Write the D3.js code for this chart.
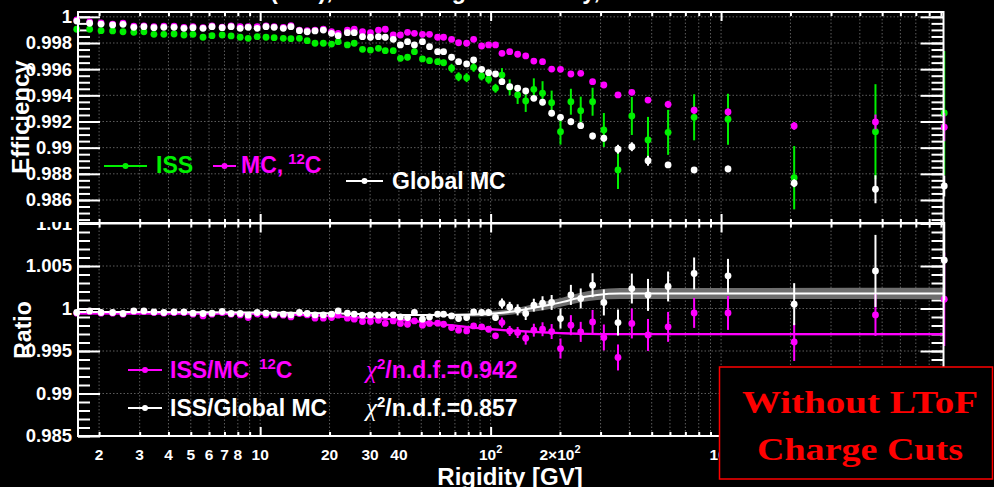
<!DOCTYPE html>
<html>
<head>
<meta charset="utf-8">
<script src="https://cdn.jsdelivr.net/npm/d3@7"></script>
<style>
  html, body { margin: 0; padding: 0; background: #000; }
  svg { display: block; }
</style>
</head>
<body>
<svg id="chart" width="994" height="487"></svg>
<script>
// ---- Rigidity bins [GV] ----
const rigidity = [1.60, 1.82, 2.04, 2.29, 2.54, 2.83, 3.13, 3.46, 3.82, 4.23,
  4.67, 5.11, 5.65, 6.18, 6.84, 7.48, 8.19, 8.87, 9.70, 10.6,
  11.5, 12.6, 13.6, 14.8, 16.0, 17.3, 18.8, 20.4, 21.8, 23.9,
  25.6, 27.8, 30.1, 32.6, 34.9, 37.8, 40.6, 43.6, 46.7, 50.6,
  54.3, 58.9, 62.5, 67.7, 72.6, 78.7, 84.4, 91.4, 98.0, 105,
  112, 121, 131, 142, 154, 168, 184, 201, 223, 246,
  277, 310, 357, 410, 482, 589, 764, 1072, 2076, 4677,
  9300];

// ---- Efficiency: ISS data ----
const effISS = [0.99905, 0.99905, 0.99894, 0.99892, 0.99886, 0.99882, 0.99886, 0.99866, 0.99866, 0.99869,
  0.99861, 0.99866, 0.99844, 0.99856, 0.99861, 0.99854, 0.99844, 0.99836, 0.99848, 0.99844,
  0.99841, 0.99836, 0.99833, 0.99836, 0.99818, 0.99798, 0.99798, 0.99792, 0.99810, 0.99785,
  0.99798, 0.99752, 0.99746, 0.99759, 0.99741, 0.99741, 0.99683, 0.99691, 0.99734, 0.99678,
  0.99665, 0.99657, 0.99649, 0.99607, 0.99542, 0.99535, 0.99614, 0.99548, 0.99523, 0.99454,
  0.99555, 0.99461, 0.99403, 0.99357, 0.99446, 0.99416, 0.99344, 0.99122, 0.99351, 0.99283,
  0.99351, 0.99135, 0.98829, 0.99242, 0.99059, 0.99117, 0.99232, 0.99217, 0.98770, 0.99122,
  0.99265];
const errISS = [0.00008, 0.00008, 0.00008, 0.00008, 0.00008, 0.00008, 0.00008, 0.00008, 0.00008, 0.00008,
  0.00008, 0.00008, 0.00008, 0.00008, 0.00008, 0.00008, 0.00008, 0.00008, 0.00008, 0.00008,
  0.00008, 0.00008, 0.00008, 0.00008, 0.00008, 0.00008, 0.00008, 0.00015, 0.00015, 0.00015,
  0.00015, 0.00015, 0.00015, 0.00015, 0.00015, 0.00015, 0.00023, 0.00023, 0.00023, 0.00023,
  0.00023, 0.00023, 0.00023, 0.00034, 0.00034, 0.00034, 0.00034, 0.00034, 0.00034, 0.00034,
  0.00053, 0.00061, 0.00069, 0.00084, 0.00084, 0.00092, 0.00092, 0.00099, 0.00099, 0.00107,
  0.00107, 0.00130, 0.00145, 0.00145, 0.00176, 0.00172, 0.00176, 0.00195, 0.00242, 0.00363,
  0.00474];

// ---- Efficiency: MC, 12C ----
const effMC12C = [0.99976, 0.99961, 0.99953, 0.99945, 0.99951, 0.99928, 0.99930, 0.99925, 0.99928, 0.99928,
  0.99920, 0.99925, 0.99917, 0.99930, 0.99922, 0.99930, 0.99925, 0.99925, 0.99925, 0.99930,
  0.99925, 0.99920, 0.99932, 0.99899, 0.99894, 0.99899, 0.99905, 0.99886, 0.99874, 0.99899,
  0.99905, 0.99886, 0.99879, 0.99899, 0.99905, 0.99861, 0.99861, 0.99882, 0.99874, 0.99866,
  0.99866, 0.99844, 0.99844, 0.99828, 0.99802, 0.99798, 0.99828, 0.99777, 0.99785, 0.99785,
  0.99721, 0.99734, 0.99714, 0.99701, 0.99662, 0.99657, 0.99601, 0.99599, 0.99563, 0.99568,
  0.99504, 0.99479, 0.99403, 0.99423, 0.99364, 0.99331, 0.99286, 0.99273, 0.99166, 0.99196,
  0.99156];
const errMC12C = [0.00003, 0.00003, 0.00003, 0.00003, 0.00003, 0.00003, 0.00003, 0.00003, 0.00003, 0.00003,
  0.00003, 0.00003, 0.00003, 0.00003, 0.00003, 0.00003, 0.00003, 0.00003, 0.00003, 0.00003,
  0.00003, 0.00003, 0.00003, 0.00003, 0.00003, 0.00003, 0.00003, 0.00003, 0.00003, 0.00003,
  0.00003, 0.00003, 0.00003, 0.00003, 0.00003, 0.00003, 0.00003, 0.00003, 0.00003, 0.00003,
  0.00003, 0.00003, 0.00003, 0.00003, 0.00003, 0.00003, 0.00003, 0.00003, 0.00003, 0.00008,
  0.00008, 0.00008, 0.00008, 0.00008, 0.00008, 0.00008, 0.00008, 0.00012, 0.00012, 0.00012,
  0.00012, 0.00012, 0.00012, 0.00012, 0.00012, 0.00027, 0.00027, 0.00027, 0.00030, 0.00057,
  0.00107];

// ---- Efficiency: Global MC ----
const effGlobalMC = [0.99968, 0.99951, 0.99945, 0.99938, 0.99943, 0.99920, 0.99925, 0.99917, 0.99920, 0.99920,
  0.99912, 0.99917, 0.99912, 0.99925, 0.99917, 0.99925, 0.99912, 0.99920, 0.99912, 0.99925,
  0.99920, 0.99912, 0.99925, 0.99894, 0.99886, 0.99892, 0.99899, 0.99874, 0.99856, 0.99879,
  0.99879, 0.99848, 0.99844, 0.99848, 0.99844, 0.99828, 0.99785, 0.99810, 0.99785, 0.99810,
  0.99772, 0.99734, 0.99734, 0.99691, 0.99657, 0.99640, 0.99670, 0.99599, 0.99573, 0.99563,
  0.99504, 0.99466, 0.99454, 0.99433, 0.99377, 0.99347, 0.99263, 0.99232, 0.99198, 0.99168,
  0.99089, 0.99072, 0.98988, 0.99007, 0.98900, 0.98868, 0.98829, 0.98837, 0.98728, 0.98682,
  0.98707];
const errGlobalMC = [0.00004, 0.00004, 0.00004, 0.00004, 0.00004, 0.00004, 0.00004, 0.00004, 0.00004, 0.00004,
  0.00004, 0.00004, 0.00004, 0.00004, 0.00004, 0.00004, 0.00004, 0.00004, 0.00004, 0.00004,
  0.00004, 0.00004, 0.00004, 0.00004, 0.00004, 0.00004, 0.00004, 0.00004, 0.00004, 0.00004,
  0.00004, 0.00004, 0.00004, 0.00004, 0.00004, 0.00004, 0.00004, 0.00004, 0.00004, 0.00004,
  0.00010, 0.00010, 0.00010, 0.00010, 0.00010, 0.00010, 0.00010, 0.00010, 0.00010, 0.00010,
  0.00010, 0.00010, 0.00010, 0.00010, 0.00010, 0.00010, 0.00010, 0.00025, 0.00025, 0.00025,
  0.00025, 0.00025, 0.00034, 0.00034, 0.00038, 0.00023, 0.00023, 0.00025, 0.00030, 0.00107,
  0.00080];

// ---- Ratio: ISS / MC 12C ----
const ratioMC12C = [0.99945, 0.99965, 0.99945, 0.99945, 0.99933, 0.99965, 0.99965, 0.99953, 0.99945, 0.99953,
  0.99953, 0.99933, 0.99913, 0.99933, 0.99953, 0.99933, 0.99925, 0.99894, 0.99933, 0.99925,
  0.99921, 0.99921, 0.99901, 0.99941, 0.99925, 0.99886, 0.99886, 0.99894, 0.99921, 0.99886,
  0.99874, 0.99847, 0.99847, 0.99862, 0.99824, 0.99854, 0.99824, 0.99815, 0.99854, 0.99804,
  0.99824, 0.99827, 0.99815, 0.99776, 0.99745, 0.99736, 0.99795, 0.99784, 0.99756, 0.99678,
  0.99835, 0.99736, 0.99718, 0.99651, 0.99745, 0.99756, 0.99729, 0.99529, 0.99804, 0.99725,
  0.99842, 0.99659, 0.99424, 0.99824, 0.99689, 0.99784, 0.99948, 0.99948, 0.99607, 0.99925,
  1.00109];
const errRatioMC12C = [0.00006, 0.00006, 0.00006, 0.00006, 0.00006, 0.00006, 0.00006, 0.00006, 0.00006, 0.00006,
  0.00006, 0.00006, 0.00006, 0.00006, 0.00006, 0.00006, 0.00006, 0.00006, 0.00006, 0.00015,
  0.00015, 0.00015, 0.00015, 0.00015, 0.00015, 0.00015, 0.00015, 0.00015, 0.00015, 0.00015,
  0.00015, 0.00015, 0.00015, 0.00015, 0.00015, 0.00015, 0.00035, 0.00035, 0.00035, 0.00035,
  0.00035, 0.00035, 0.00035, 0.00035, 0.00035, 0.00035, 0.00035, 0.00035, 0.00035, 0.00035,
  0.00059, 0.00059, 0.00065, 0.00076, 0.00076, 0.00082, 0.00088, 0.00118, 0.00118, 0.00118,
  0.00141, 0.00153, 0.00153, 0.00176, 0.00188, 0.00176, 0.00176, 0.00200, 0.00224, 0.00247,
  0.00550];

// ---- Ratio: ISS / Global MC ----
const ratioGlobalMC = [0.99953, 0.99972, 0.99953, 0.99953, 0.99941, 0.99972, 0.99972, 0.99960, 0.99953, 0.99960,
  0.99960, 0.99945, 0.99941, 0.99945, 0.99965, 0.99941, 0.99941, 0.99921, 0.99953, 0.99945,
  0.99933, 0.99933, 0.99925, 0.99953, 0.99941, 0.99925, 0.99925, 0.99933, 0.99972, 0.99945,
  0.99933, 0.99921, 0.99925, 0.99921, 0.99925, 0.99925, 0.99901, 0.99894, 0.99953, 0.99874,
  0.99901, 0.99933, 0.99933, 0.99913, 0.99882, 0.99894, 0.99960, 0.99953, 0.99953, 0.99894,
  1.00059, 1.00019, 0.99984, 0.99941, 1.00039, 1.00062, 1.00071, 0.99882, 1.00160, 1.00118,
  1.00274, 1.00071, 0.99835, 1.00235, 1.00160, 1.00259, 1.00412, 1.00384, 1.00051, 1.00442,
  1.00568];
const errRatioGlobalMC = [0.00006, 0.00006, 0.00006, 0.00006, 0.00006, 0.00006, 0.00006, 0.00006, 0.00006, 0.00006,
  0.00006, 0.00006, 0.00006, 0.00006, 0.00006, 0.00006, 0.00006, 0.00006, 0.00006, 0.00015,
  0.00015, 0.00015, 0.00015, 0.00015, 0.00015, 0.00015, 0.00015, 0.00015, 0.00015, 0.00015,
  0.00015, 0.00015, 0.00015, 0.00015, 0.00015, 0.00015, 0.00035, 0.00035, 0.00035, 0.00035,
  0.00035, 0.00035, 0.00035, 0.00035, 0.00035, 0.00035, 0.00035, 0.00035, 0.00035, 0.00035,
  0.00059, 0.00059, 0.00065, 0.00076, 0.00076, 0.00082, 0.00088, 0.00118, 0.00118, 0.00118,
  0.00141, 0.00153, 0.00153, 0.00176, 0.00188, 0.00176, 0.00188, 0.00200, 0.00247, 0.00424,
  0.00470];

// ---- Fitted ratio curves (knots) ----
const fitMC12CRigidity = [1.62, 8, 15, 25, 40, 60, 100, 170, 300, 9230];
const fitMC12CValue    = [0.99942, 0.99940, 0.99925, 0.99898, 0.99868, 0.99818, 0.99757, 0.99718, 0.99699, 0.99698];
const fitMC12CBand     = [0.00012, 0.00012, 0.00012, 0.00012, 0.00012, 0.00012, 0.00012, 0.00012, 0.00012, 0.00012];

const fitGlobalRigidity = [1.62, 10, 20, 40, 70, 90, 125, 148, 176, 206, 245, 290, 365, 9230];
const fitGlobalValue    = [0.99960, 0.99953, 0.99943, 0.99925, 0.99925, 0.99932, 0.99965, 1.00000, 1.00039, 1.00078, 1.00129, 1.00160, 1.00176, 1.00176];
const fitGlobalBand     = [0.00004, 0.00004, 0.00005, 0.00006, 0.00015, 0.00025, 0.00035, 0.00042, 0.00050, 0.00052, 0.00055, 0.00060, 0.00065, 0.00067];

// ---- Axis ticks and labels ----
const effTicks   = [0.986, 0.988, 0.99, 0.992, 0.994, 0.996, 0.998, 1];
const ratioTicks = [0.985, 0.99, 0.995, 1, 1.005, 1.01];
const xLabelValues = [2, 3, 4, 5, 6, 7, 8, 10, 20, 30, 40, 100, 200, 1000];
const xLabelText   = ['2', '3', '4', '5', '6', '7', '8', '10', '20', '30', '40', '10^2', '2\u00d710^2', '10^3'];
const xDecades = [10, 100, 1000];

// ---- Setup ----
const W = 994, H = 487;
const LEFT = 78, RIGHT = 943.5;
const GREEN = '#00f000', MAGENTA = '#ff00ff', WHITE = '#ffffff';
const SANS = "'Liberation Sans', Arial, Helvetica, sans-serif";
const SERIF = "'Liberation Serif', 'DejaVu Serif', serif";

const svg = d3.select('#chart');
svg.append('rect').attr('width', W).attr('height', H).attr('fill', '#000');

const x = d3.scaleLog().domain([1.62, 9230]).range([LEFT, RIGHT]);
const yTop = d3.scaleLinear().domain([0.98424, 1.00037]).range([223, 12]);
const yBot = d3.scaleLinear().domain([0.985, 1.01]).range([436, 223.5]);

const xAll = x.ticks();
const xMinor = xAll.filter(v => !xDecades.includes(v));

const effMinor = d3.range(0, 32).map(i => +(0.9845 + i * 0.0005).toFixed(4));
const ratioMinor = d3.range(0, 26).map(i => +(0.985 + i * 0.001).toFixed(3));

function styleAxis(sel) {
  sel.select('.domain').remove();
  sel.attr('color', '#fff')
     .attr('font-family', SANS)
     .attr('font-weight', 'bold')
     .attr('font-size', 18.5);
  sel.selectAll('.tick line').attr('stroke-width', 2);
}

function drawPanel(g, y, majorY, minorY, clipId) {
  const [yb, yt] = y.range();
  // grid
  const grid = g.append('g').attr('stroke', '#5c5c5c').attr('stroke-width', 1).attr('stroke-dasharray', '1.5,2');
  grid.selectAll('line.gx').data(xAll).join('line').attr('class', 'gx')
    .attr('x1', d => x(d)).attr('x2', d => x(d)).attr('y1', yt).attr('y2', yb);
  grid.selectAll('line.gy').data(majorY.filter(v => y(v) > yt + 1 && y(v) < yb - 1)).join('line').attr('class', 'gy')
    .attr('x1', LEFT).attr('x2', RIGHT).attr('y1', d => y(d)).attr('y2', d => y(d));

  const addAxis = (gen, tx, ty) => g.append('g').attr('transform', `translate(${tx},${ty})`).call(gen).call(styleAxis);
  const inY = minorY.filter(v => y(v) >= yt - 0.5 && y(v) <= yb + 0.5);
  addAxis(d3.axisLeft(y).tickValues(inY).tickSize(-12).tickSizeOuter(0).tickFormat(''), LEFT, 0);
  addAxis(d3.axisLeft(y).tickValues(majorY).tickSize(-22).tickSizeOuter(0).tickPadding(6).tickFormat(d => String(d)), LEFT, 0);
  addAxis(d3.axisRight(y).tickValues(inY).tickSize(-12).tickSizeOuter(0).tickFormat(''), RIGHT, 0);
  addAxis(d3.axisRight(y).tickValues(majorY).tickSize(-23).tickSizeOuter(0).tickFormat(''), RIGHT, 0);
  addAxis(d3.axisBottom(x).tickValues(xMinor).tickSize(-4).tickSizeOuter(0).tickFormat(''), 0, yb);
  addAxis(d3.axisBottom(x).tickValues(xDecades).tickSize(-9).tickSizeOuter(0).tickFormat(''), 0, yb);
  addAxis(d3.axisTop(x).tickValues(xMinor).tickSize(-4).tickSizeOuter(0).tickFormat(''), 0, yt);
  addAxis(d3.axisTop(x).tickValues(xDecades).tickSize(-9).tickSizeOuter(0).tickFormat(''), 0, yt);

  g.append('clipPath').attr('id', clipId).append('rect')
    .attr('x', LEFT).attr('y', yt).attr('width', RIGHT - LEFT).attr('height', yb - yt);
}

function drawFrame(g, y) {
  const [yb, yt] = y.range();
  g.append('rect').attr('x', LEFT).attr('y', yt).attr('width', RIGHT - LEFT).attr('height', yb - yt)
    .attr('fill', 'none').attr('stroke', '#fff').attr('stroke-width', 2);
}

function drawSeries(g, y, xs, vals, errs, color) {
  const s = g.append('g');
  const pts = xs.map((r, i) => ({ r, v: vals[i], e: errs[i] }));
  s.selectAll('line').data(pts).join('line')
    .attr('x1', d => x(d.r)).attr('x2', d => x(d.r))
    .attr('y1', d => y(d.v - d.e)).attr('y2', d => y(d.v + d.e))
    .attr('stroke', color).attr('stroke-width', 2);
  s.selectAll('circle').data(pts).join('circle')
    .attr('cx', d => x(d.r)).attr('cy', d => y(d.v)).attr('r', 3.4)
    .attr('fill', color);
}

function legendEntry(g, x1, x2, yy, color) {
  g.append('line').attr('x1', x1).attr('x2', x2).attr('y1', yy).attr('y2', yy)
    .attr('stroke', color).attr('stroke-width', 2);
  g.append('circle').attr('cx', (x1 + x2) / 2).attr('cy', yy).attr('r', 3).attr('fill', color);
}

function labelWithSup(g, tx, ty, parts, color, size) {
  const t = g.append('text').attr('x', tx).attr('y', ty).attr('fill', color)
    .attr('font-family', SANS).attr('font-weight', 'bold').attr('font-size', size);
  parts.forEach(p => {
    const sp = t.append('tspan').text(p.t);
    if (p.sup) sp.attr('font-size', size * 0.65).attr('dy', -size * 0.4);
    if (p.down) sp.attr('dy', size * 0.4);
    if (p.dx) sp.attr('dx', p.dx);
    if (p.font) sp.attr('font-family', p.font).attr('font-weight', p.weight || 'bold')
      .attr('font-style', p.style || 'normal').attr('font-size', p.size || size);
  });
  return t;
}

// =================== Ratio panel ===================
const gBot = svg.append('g');
drawPanel(gBot, yBot, ratioTicks, ratioMinor, 'clipBot');

const fitLayer = gBot.append('g').attr('clip-path', 'url(#clipBot)');
const gKnots = fitGlobalRigidity.map((r, i) => ({ r, v: fitGlobalValue[i], e: fitGlobalBand[i] }));
const mKnots = fitMC12CRigidity.map((r, i) => ({ r, v: fitMC12CValue[i], e: fitMC12CBand[i] }));
const band = d3.area().curve(d3.curveMonotoneX).x(d => x(d.r)).y0(d => yBot(d.v - d.e)).y1(d => yBot(d.v + d.e));
const fline = d3.line().curve(d3.curveMonotoneX).x(d => x(d.r)).y(d => yBot(d.v));
fitLayer.append('path').datum(gKnots).attr('d', band).attr('fill', '#6e6e6e');
fitLayer.append('path').datum(mKnots).attr('d', band).attr('fill', MAGENTA).attr('opacity', 0.45);
fitLayer.append('path').datum(mKnots).attr('d', fline).attr('fill', 'none').attr('stroke', MAGENTA).attr('stroke-width', 2.2);
fitLayer.append('path').datum(gKnots).attr('d', fline).attr('fill', 'none').attr('stroke', WHITE).attr('stroke-width', 2);

drawSeries(gBot, yBot, rigidity, ratioMC12C, errRatioMC12C, MAGENTA);
drawSeries(gBot, yBot, rigidity, ratioGlobalMC, errRatioGlobalMC, WHITE);
drawFrame(gBot, yBot);

// ratio legend and fit quality
legendEntry(gBot, 128, 162, 370, MAGENTA);
labelWithSup(gBot, 170, 378, [{ t: 'ISS/MC' }, { t: '12', sup: true, dx: 10 }, { t: 'C', down: true }], MAGENTA, 23);
legendEntry(gBot, 128, 162, 408, WHITE);
labelWithSup(gBot, 170, 416, [{ t: 'ISS/Global MC' }], WHITE, 23);
labelWithSup(gBot, 366, 378, [{ t: '\u03c7', font: SERIF, weight: 'normal', style: 'italic', size: 25 }, { t: '2', sup: true }, { t: '/n.d.f.=0.942', down: true }], MAGENTA, 23);
labelWithSup(gBot, 366, 416, [{ t: '\u03c7', font: SERIF, weight: 'normal', style: 'italic', size: 25 }, { t: '2', sup: true }, { t: '/n.d.f.=0.857', down: true }], WHITE, 23);

// y title
gBot.append('text').attr('transform', 'translate(31,330) rotate(-90)')
  .attr('text-anchor', 'middle').attr('fill', '#fff')
  .attr('font-family', SANS).attr('font-weight', 'bold').attr('font-size', 23).text('Ratio');

// x tick labels
const xl = gBot.append('g').attr('fill', '#fff').attr('font-family', SANS).attr('font-weight', 'bold').attr('font-size', 15.5);
xLabelValues.forEach((v, i) => {
  const [base, sup] = xLabelText[i].split('^');
  const t = xl.append('text').attr('x', x(v)).attr('y', 460).attr('text-anchor', 'middle');
  t.append('tspan').text(base);
  if (sup) t.append('tspan').text(sup).attr('font-size', 11).attr('dy', -7);
});

// x title
svg.append('text').attr('x', 510).attr('y', 485).attr('text-anchor', 'middle').attr('fill', '#fff')
  .attr('font-family', SANS).attr('font-weight', 'bold').attr('font-size', 24).text('Rigidity [GV]');

// =================== Efficiency panel ===================
svg.append('rect').attr('x', 0).attr('y', 0).attr('width', W).attr('height', 222).attr('fill', '#000');
const gTop = svg.append('g');

// title (runs above the visible area)
const ttl = gTop.append('g').attr('fill', '#fff').attr('font-family', SANS).attr('font-weight', 'bold').attr('font-size', 24);
ttl.append('text').attr('x', 270).attr('y', -1).attr('text-anchor', 'end').text('Carbon ');
ttl.append('text').attr('x', 270).attr('y', -1).attr('textLength', 330).attr('lengthAdjust', 'spacingAndGlyphs')
  .text('(Z=6), LToF Charge Efficiency,');

drawPanel(gTop, yTop, effTicks, effMinor, 'clipTop');
drawSeries(gTop, yTop, rigidity, effISS, errISS, GREEN);
drawSeries(gTop, yTop, rigidity, effMC12C, errMC12C, MAGENTA);
drawSeries(gTop, yTop, rigidity, effGlobalMC, errGlobalMC, WHITE);
drawFrame(gTop, yTop);

legendEntry(gTop, 104, 147, 166, GREEN);
labelWithSup(gTop, 156, 173, [{ t: 'ISS' }], GREEN, 23);
legendEntry(gTop, 213, 236, 166, MAGENTA);
labelWithSup(gTop, 241, 173, [{ t: 'MC,' }, { t: '12', sup: true, dx: 5 }, { t: 'C', down: true }], MAGENTA, 23);
legendEntry(gTop, 346, 383, 181, WHITE);
labelWithSup(gTop, 392, 189, [{ t: 'Global MC' }], WHITE, 23);

gTop.append('text').attr('transform', 'translate(29,117) rotate(-90)')
  .attr('text-anchor', 'middle').attr('fill', '#fff')
  .attr('font-family', SANS).attr('font-weight', 'bold').attr('font-size', 24).text('Efficiency');

// =================== Annotation box ===================
const note = svg.append('g');
note.append('rect').attr('x', 719.5).attr('y', 367).attr('width', 273).attr('height', 112)
  .attr('fill', '#000').attr('stroke', '#ff0000').attr('stroke-width', 1.5);
note.append('text').attr('x', 860).attr('y', 413).attr('text-anchor', 'middle').attr('fill', '#ff0000')
  .attr('font-family', SERIF).attr('font-weight', 'bold').attr('font-size', 31)
  .attr('textLength', 236).attr('lengthAdjust', 'spacingAndGlyphs').text('Without LToF');
note.append('text').attr('x', 860).attr('y', 460).attr('text-anchor', 'middle').attr('fill', '#ff0000')
  .attr('font-family', SERIF).attr('font-weight', 'bold').attr('font-size', 31)
  .attr('textLength', 206).attr('lengthAdjust', 'spacingAndGlyphs').text('Charge Cuts');
</script>
</body>
</html>
